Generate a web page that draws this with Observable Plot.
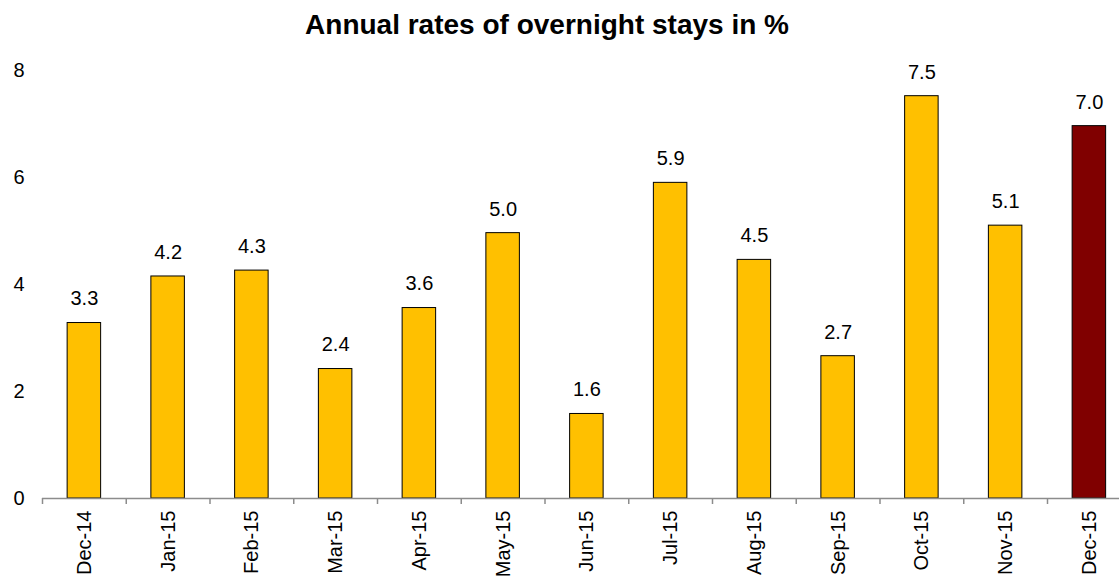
<!DOCTYPE html>
<html>
<head>
<meta charset="utf-8">
<script src="https://cdn.jsdelivr.net/npm/d3@7"></script>
<script src="https://cdn.jsdelivr.net/npm/@observablehq/plot@0.6"></script>
<style>
  html, body { margin: 0; padding: 0; background: #fff; overflow: hidden; }
  body { width: 1119px; height: 577px; position: relative; font-family: Arial, "Liberation Sans", sans-serif; }
  #title { position: absolute; left: 0; top: 0; width: 1094px; height: 40px; padding-top: 11px; box-sizing: border-box;
           text-align: center; font-weight: bold; font-size: 28px; line-height: 28px; color: #000; white-space: nowrap; z-index: 2; }
  #chart { position: absolute; left: 0; top: 40px; }
</style>
</head>
<body>
<div id="title">Annual rates of overnight stays in %</div>
<div id="chart"></div>
<script>
const months = ["Dec-14","Jan-15","Feb-15","Mar-15","Apr-15","May-15","Jun-15","Jul-15","Aug-15","Sep-15","Oct-15","Nov-15","Dec-15"];
const rates  = [3.28, 4.15, 4.26, 2.42, 3.56, 4.96, 1.58, 5.9, 4.46, 2.66, 7.52, 5.1, 6.96];
const highlight = ["Dec-15"];
const yTicks = [0, 2, 4, 6, 8];

const data = months.map((m, i) => ({month: m, rate: rates[i], hi: highlight.includes(m)}));

const font = 'Arial, "Liberation Sans", sans-serif';
const plot = Plot.plot({
  width: 1119,
  height: 560,
  marginTop: 30,
  marginBottom: 102,
  marginLeft: 42,
  marginRight: 0,
  style: {fontFamily: font, fontSize: "20px", color: "#000", background: "transparent", overflow: "visible"},
  x: {domain: months, range: [42, 1130.75], paddingInner: 0.6, paddingOuter: 0.3, round: false, label: null},
  y: {domain: [0, 8], label: null},
  marks: [
    Plot.axisY({ticks: yTicks, tickSize: 0, tickPadding: 18, tickFormat: d => String(d), fontSize: 20, label: null}),
    Plot.barY(data, {x: "month", y: "rate", fill: d => d.hi ? "#800000" : "#FFC000", stroke: "#000", strokeWidth: 1}),
    Plot.ruleY([0], {stroke: "#8c8c8c", strokeWidth: 1.5}),
    Plot.axisX({tickSize: 6, tickFormat: () => "", dx: -41.875, stroke: "#8c8c8c", strokeWidth: 1.5, label: null}),
    Plot.axisX({tickSize: 0, tickPadding: 12, tickRotate: -90, fontSize: 20, label: null}),
    Plot.text(data, {x: "month", y: "rate", text: d => d.rate.toFixed(1), dy: -24, fontSize: 20, fill: "#000"})
  ]
});
document.getElementById("chart").appendChild(plot);
</script>
</body>
</html>
